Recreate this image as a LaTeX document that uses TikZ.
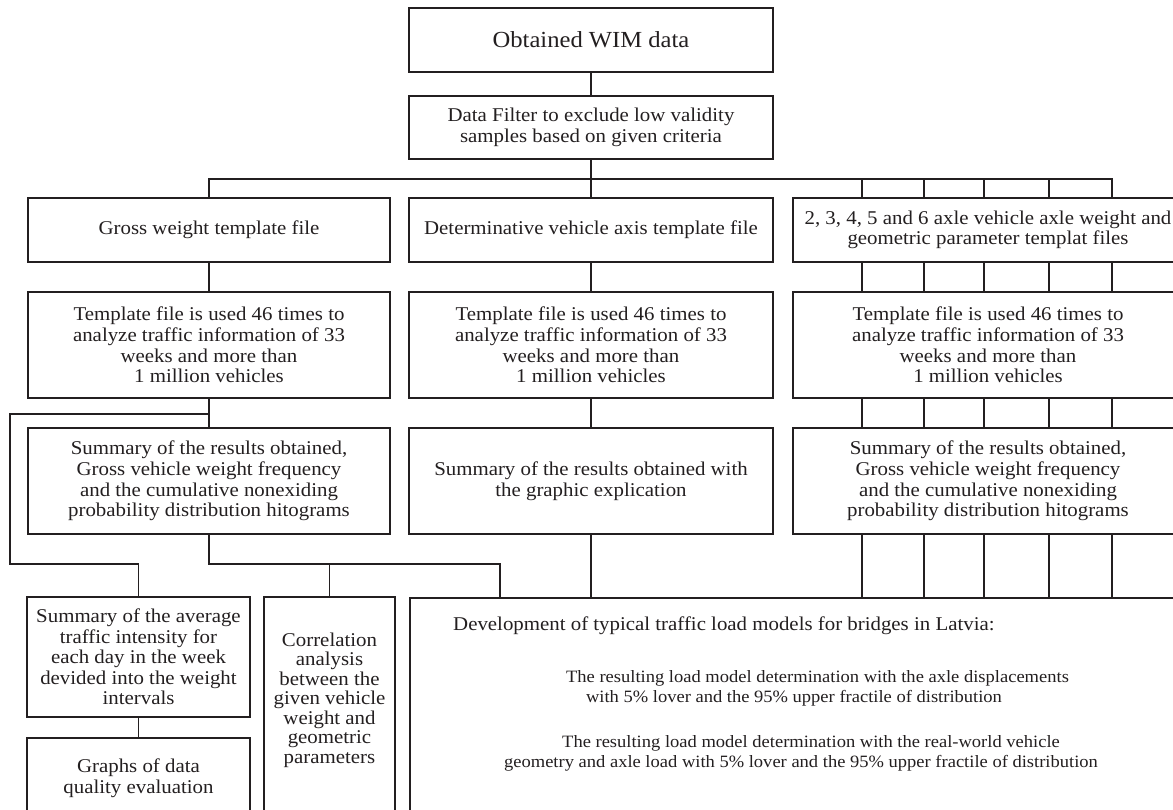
\documentclass[tikz,border=0pt]{standalone}
\usepackage{fontspec}
\setmainfont[FakeStretch=1.07]{Liberation Serif}
\newcommand\figfont{\fontsize{19.5}{20.6}\selectfont}
\newcommand\corrfont{\fontsize{19.5}{19.5}\selectfont}
\newcommand\bigfont{\fontsize{23}{24}\selectfont}
\newcommand\subfont{\fontsize{17.3}{20}\selectfont}
\definecolor{ink}{HTML}{231F20}
\begin{document}
\begin{tikzpicture}[x=1pt,y=-1pt,
  box/.style={draw=ink, line width=1.6pt, inner sep=0pt, align=center, font=\figfont, text=ink},
  txt/.style={inner sep=0pt, font=\figfont, text=ink},
  conn/.style={draw=ink, line width=1.3pt}]
\useasboundingbox (0,0) rectangle (1173,809);
\clip (0,0) rectangle (1173,809);
\fill[white] (0,0) rectangle (1173,809);

% top
\node[box, font=\bigfont, minimum width=364pt, minimum height=64pt] (wim) at (591,40) {Obtained WIM data};
\node[box, minimum width=364pt, minimum height=63pt] (filter) at (591,127.5) {Data Filter to exclude low validity\\samples based on given criteria};

% row 1
\node[box, minimum width=362pt, minimum height=64pt] (gross) at (209,230) {Gross weight template file};
\node[box, minimum width=364pt, minimum height=64pt] (axis) at (591,230) {Determinative vehicle axis template file};
\node[box, minimum width=390pt, minimum height=64pt] (axle) at (988,230) {2, 3, 4, 5 and 6 axle vehicle axle weight and\\geometric parameter templat files};

% row 2
\node[box, minimum width=362pt, minimum height=106pt] (tmpl1) at (209,345) {Template file is used 46 times to\\analyze traffic information of 33\\weeks and more than\\1 million vehicles};
\node[box, minimum width=364pt, minimum height=106pt] (tmpl2) at (591,345) {Template file is used 46 times to\\analyze traffic information of 33\\weeks and more than\\1 million vehicles};
\node[box, minimum width=390pt, minimum height=106pt] (tmpl3) at (988,345) {Template file is used 46 times to\\analyze traffic information of 33\\weeks and more than\\1 million vehicles};

% row 3
\node[box, minimum width=362pt, minimum height=106pt] (sum1) at (209,481) {Summary of the results obtained,\\Gross vehicle weight frequency\\and the cumulative nonexiding\\probability distribution hitograms};
\node[box, minimum width=364pt, minimum height=106pt] (sum2) at (591,481) {Summary of the results obtained with\\the graphic explication};
\node[box, minimum width=390pt, minimum height=106pt] (sum3) at (988,481) {Summary of the results obtained,\\Gross vehicle weight frequency\\and the cumulative nonexiding\\probability distribution hitograms};

% bottom row
\node[box, minimum width=223pt, minimum height=120pt] (avg) at (138.5,657) {Summary of the average\\traffic intensity for\\each day in the week\\devided into the weight\\intervals};
\node[box, minimum width=223pt, minimum height=80pt] (graphs) at (138.5,778) {Graphs of data\\quality evaluation};
\node[box, minimum width=131pt, minimum height=240pt] (corrbox) at (329.5,717) {};
\node[txt, align=center, font=\corrfont] (corr) at (329.5,700) {Correlation\\analysis\\between the\\given vehicle\\weight and\\geometric\\parameters};
\node[box, minimum width=780pt, minimum height=240pt] (big) at (800,718) {};
\node[txt, anchor=base west] (dev) at (453,630) {Development of typical traffic load models for bridges in Latvia:};
\node[txt, font=\subfont, anchor=base] (ra1) at (817.5,682) {The resulting load model determination with the axle displacements};
\node[txt, font=\subfont, anchor=base] (ra2) at (794,702) {with 5\% lover and the 95\% upper fractile of distribution};
\node[txt, font=\subfont, anchor=base] (rb1) at (811,747) {The resulting load model determination with the real-world vehicle};
\node[txt, font=\subfont, anchor=base] (rb2) at (801,767) {geometry and axle load with 5\% lover and the 95\% upper fractile of distribution};

% helper coordinates
\coordinate (busy) at (0,179);
\coordinate (ya) at (0,414);
\coordinate (yb) at (0,564);
\coordinate (xl) at (10,0);
\coordinate (xr) at (500,0);
\foreach \i/\x in {1/862,2/924,3/984,4/1049,5/1112} \coordinate (v\i) at (\x,0);

% connectors
\draw[conn] (wim.south) -- (filter.north);
\draw[conn] (filter.south) -- (axis.north);
\draw[conn] (gross.north) |- (v5 |- busy) -- (v5 |- axle.north);
\foreach \i in {1,2,3,4} \draw[conn] (v\i |- busy) -- (v\i |- axle.north);
\foreach \i in {1,...,5} {
  \draw[conn] (v\i |- axle.south) -- (v\i |- tmpl3.north);
  \draw[conn] (v\i |- tmpl3.south) -- (v\i |- sum3.north);
  \draw[conn] (v\i |- sum3.south) -- (v\i |- big.north);
}
\draw[conn] (gross.south) -- (tmpl1.north);
\draw[conn] (tmpl1.south) -- (sum1.north);
\draw[conn] (axis.south) -- (tmpl2.north);
\draw[conn] (tmpl2.south) -- (sum2.north);
\draw[conn] (sum2.south) -- (sum2.south |- big.north);
\draw[conn] (tmpl1.south |- ya) -| (xl |- yb) -| (avg.north);
\draw[conn] (sum1.south) |- (xr |- yb) -- (xr |- big.north);
\draw[conn] (corrbox.north) -- (corrbox.north |- yb);
\draw[conn] (avg.south) -- (graphs.north);
\end{tikzpicture}
\end{document}
